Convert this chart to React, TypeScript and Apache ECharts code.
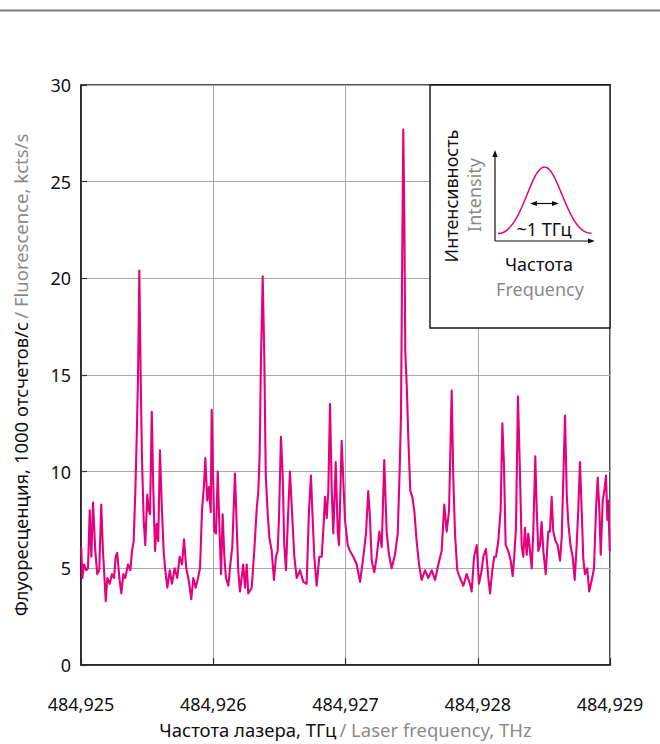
import React, { useEffect, useRef } from "react";
import * as echarts from "echarts";

// Laser frequency offset from 484,925 THz, in MHz
const freqOffsetMHz = [
  2, 10, 23, 40, 53, 66, 78, 91, 108, 123,
  138, 153, 166, 176, 187, 199, 217, 234, 250, 262,
  274, 290, 305, 320, 335, 355, 373, 386, 398, 411,
  421, 431, 441, 451, 461, 474, 486, 501, 512, 522,
  535, 547, 560, 572, 584, 597, 612, 625, 637, 653,
  671, 688, 708, 728, 746, 764, 779, 796, 814, 834,
  849, 867, 885, 900, 915, 930, 940, 955, 968, 981,
  988, 1008, 1021, 1034, 1049, 1059, 1071, 1084, 1096, 1114,
  1129, 1144, 1164, 1177, 1189, 1202, 1227, 1240, 1253, 1265,
  1291, 1310, 1329, 1341, 1351, 1361, 1374, 1386, 1397, 1412,
  1424, 1442, 1459, 1474, 1487, 1497, 1512, 1525, 1537, 1550,
  1563, 1580, 1598, 1613, 1631, 1656, 1681, 1706, 1724, 1739,
  1749, 1764, 1782, 1802, 1820, 1835, 1845, 1858, 1870, 1883,
  1896, 1908, 1926, 1941, 1951, 1971, 1996, 2017, 2034, 2059,
  2085, 2110, 2135, 2155, 2172, 2185, 2198, 2218, 2236, 2256,
  2274, 2293, 2311, 2329, 2349, 2374, 2395, 2410, 2420, 2427,
  2437, 2445, 2452, 2465, 2475, 2490, 2505, 2520, 2538, 2556,
  2576, 2601, 2626, 2652, 2677, 2702, 2727, 2747, 2765, 2783,
  2803, 2815, 2828, 2845, 2866, 2891, 2916, 2941, 2954, 2972,
  2992, 3009, 3030, 3042, 3062, 3080, 3093, 3110, 3125, 3138,
  3155, 3173, 3186, 3198, 3211, 3231, 3249, 3264, 3276, 3289,
  3304, 3317, 3332, 3344, 3357, 3370, 3382, 3395, 3408, 3420,
  3435, 3446, 3458, 3471, 3483, 3496, 3514, 3533, 3546, 3559,
  3571, 3589, 3604, 3622, 3635, 3647, 3660, 3673, 3685, 3703,
  3718, 3733, 3748, 3760, 3773, 3786, 3798, 3811, 3828, 3843,
  3862, 3879, 3894, 3907, 3919, 3930, 3945, 3957, 3970, 3980,
  3987, 3998,
];

// Fluorescence, kcts/s
const fluorescence = [
  6.1, 4.5, 5.2, 4.9, 5.0, 8.0, 5.6, 8.4, 5.9, 4.7,
  4.9, 8.3, 5.9, 4.7, 3.3, 4.5, 4.2, 4.7, 4.5, 5.6,
  5.8, 4.5, 3.7, 4.7, 4.5, 5.2, 4.9, 5.9, 6.4, 9.0,
  11.7, 14.8, 20.4, 15.0, 10.7, 7.5, 6.2, 8.8, 8.0, 7.8,
  13.1, 9.0, 5.9, 7.3, 6.4, 11.1, 8.0, 5.9, 4.9, 4.0,
  4.9, 4.2, 5.0, 4.5, 5.6, 5.2, 6.5, 5.0, 4.4, 3.4,
  4.5, 4.0, 4.5, 5.0, 8.0, 9.3, 10.7, 8.5, 9.2, 7.9,
  13.2, 6.9, 6.8, 10.0, 6.6, 4.7, 7.8, 5.6, 4.5, 4.1,
  5.2, 6.1, 9.9, 7.3, 4.9, 3.8, 5.2, 4.0, 5.2, 3.7,
  4.0, 5.9, 8.1, 9.0, 10.9, 15.9, 20.1, 15.9, 9.8, 7.8,
  6.6, 5.9, 4.4, 5.6, 5.9, 7.6, 11.8, 9.8, 6.2, 4.9,
  7.3, 10.0, 7.6, 5.6, 4.5, 4.9, 4.3, 4.2, 8.0, 9.8,
  8.0, 5.6, 4.1, 5.6, 5.6, 7.3, 8.7, 7.6, 9.0, 13.5,
  9.0, 6.8, 10.5, 6.9, 6.2, 11.6, 7.5, 6.2, 5.9, 5.6,
  5.2, 4.3, 5.6, 6.8, 9.0, 7.6, 5.4, 4.8, 5.6, 6.9,
  6.1, 10.6, 6.9, 5.7, 5.0, 5.7, 6.8, 10.2, 13.1, 19.6,
  27.7, 23.1, 16.2, 14.1, 11.7, 9.0, 8.7, 8.0, 6.4, 5.2,
  4.4, 4.9, 4.5, 4.9, 4.4, 5.2, 5.9, 8.3, 6.9, 8.0,
  14.2, 9.7, 6.8, 4.9, 4.5, 4.1, 4.7, 4.2, 3.8, 5.6,
  6.2, 4.2, 4.9, 5.6, 6.0, 4.5, 3.7, 4.9, 5.6, 5.6,
  6.4, 8.0, 12.5, 10.4, 6.2, 5.9, 5.4, 4.6, 5.6, 7.1,
  13.9, 10.5, 6.2, 5.6, 7.1, 5.7, 6.8, 5.9, 5.0, 6.9,
  10.8, 8.0, 5.9, 6.2, 7.4, 5.9, 4.7, 6.9, 6.9, 8.7,
  6.9, 6.4, 6.2, 5.4, 6.6, 9.7, 12.9, 8.8, 7.3, 6.1,
  5.6, 4.4, 6.2, 8.0, 10.5, 8.0, 5.5, 4.7, 5.0, 3.8,
  4.4, 5.0, 8.0, 9.7, 8.1, 5.7, 8.5, 9.0, 9.8, 7.5,
  8.5, 5.9,
];

const xTickLabels = ["484,925", "484,926", "484,927", "484,928", "484,929"];

const FONT = "Noto Sans";
const PINK = "#e5007d";
const GREY_TEXT = "#8a8a8a";

export default function App() {
  const ref = useRef<HTMLDivElement>(null);

  useEffect(() => {
    if (!ref.current) return;
    const chart = echarts.init(ref.current, null, { renderer: "svg" });
    const data = freqOffsetMHz.map((f, i) => [f, fluorescence[i]]);

    const arrowHead = (tipX: number, tipY: number, dir: "up" | "right" | "left") => {
      let pts: number[][];
      if (dir === "up") pts = [[tipX, tipY], [tipX - 2.6, tipY + 7], [tipX + 2.6, tipY + 7]];
      else if (dir === "right") pts = [[tipX, tipY], [tipX - 7, tipY - 2.6], [tipX - 7, tipY + 2.6]];
      else pts = [[tipX, tipY], [tipX + 7, tipY - 2.6], [tipX + 7, tipY + 2.6]];
      return { type: "polygon", z: 20, shape: { points: pts }, style: { fill: "#111" } };
    };

    chart.setOption({
      animation: false,
      textStyle: { fontFamily: FONT },
      grid: {
        left: 81,
        top: 85,
        width: 529,
        height: 583,
        show: true,
        borderColor: "#1a1a1a",
        borderWidth: 1.5,
        backgroundColor: "transparent",
      },
      xAxis: {
        type: "value",
        min: 0,
        max: 4000,
        interval: 1000,
        name: "{a|Частота лазера, ТГц} {b|/ Laser frequency, THz}",
        nameLocation: "middle",
        nameGap: 55,
        nameTextStyle: {
          rich: {
            a: { color: "#111", fontSize: 18.5, fontFamily: FONT },
            b: { color: GREY_TEXT, fontSize: 18.5, fontFamily: FONT },
          },
        },
        axisLine: { show: true, lineStyle: { color: "#1a1a1a", width: 1.5 } },
        axisTick: { show: true, inside: true, length: 7, lineStyle: { color: "#333", width: 1.2 } },
        axisLabel: {
          margin: 30,
          fontSize: 18,
          color: "#111",
          fontFamily: FONT,
          formatter: (v: number) => xTickLabels[Math.round(v / 1000)] ?? "",
        },
        splitLine: { show: true, lineStyle: { color: "#a8a8a8", width: 1 } },
      },
      yAxis: {
        type: "value",
        min: 0,
        max: 30,
        interval: 5,
        name: "{a|Флуоресценция, 1000 отсчетов/с} {b|/ Fluorescence, kcts/s}",
        nameLocation: "middle",
        nameGap: 51,
        nameRotate: 90,
        nameTextStyle: {
          rich: {
            a: { color: "#111", fontSize: 18.5, fontFamily: FONT },
            b: { color: GREY_TEXT, fontSize: 18.5, fontFamily: FONT },
          },
        },
        axisLine: { show: true, lineStyle: { color: "#1a1a1a", width: 1.5 } },
        axisTick: { show: true, inside: true, length: 6, lineStyle: { color: "#333", width: 1.2 } },
        axisLabel: { margin: 10, fontSize: 18, color: "#111", fontFamily: FONT },
        splitLine: { show: true, lineStyle: { color: "#a8a8a8", width: 1 } },
      },
      series: [
        {
          type: "line",
          data,
          showSymbol: false,
          symbol: "none",
          lineStyle: { color: PINK, width: 2.1, join: "round" },
          itemStyle: { color: PINK },
          z: 3,
        },
      ],
      graphic: [
        {
          type: "line",
          shape: { x1: 0, y1: 10.5, x2: 660, y2: 10.5 },
          style: { stroke: "#7a7a7a", lineWidth: 2 },
        },
        {
          type: "rect",
          z: 10,
          shape: { x: 430, y: 85, width: 180, height: 243 },
          style: { fill: "#fff", stroke: "#111", lineWidth: 1.4 },
        },
        {
          type: "text",
          z: 20,
          x: 451,
          y: 196,
          rotation: Math.PI / 2,
          style: {
            text: "Интенсивность",
            fill: "#111",
            font: `18px "${FONT}"`,
            align: "center",
            verticalAlign: "middle",
          },
        },
        {
          type: "text",
          z: 20,
          x: 474,
          y: 195,
          rotation: Math.PI / 2,
          style: {
            text: "Intensity",
            fill: GREY_TEXT,
            font: `18px "${FONT}"`,
            align: "center",
            verticalAlign: "middle",
          },
        },
        {
          type: "line",
          z: 20,
          shape: { x1: 495, y1: 241, x2: 495, y2: 156 },
          style: { stroke: "#111", lineWidth: 1.2 },
        },
        arrowHead(495, 150, "up"),
        {
          type: "line",
          z: 20,
          shape: { x1: 495, y1: 241, x2: 589, y2: 241 },
          style: { stroke: "#111", lineWidth: 1.2 },
        },
        arrowHead(595, 241, "right"),
        {
          type: "bezierCurve",
          z: 20,
          shape: { x1: 498, y1: 233.5, cpx1: 522, cpy1: 233.5, cpx2: 530, cpy2: 167, x2: 544.5, y2: 167 },
          style: { stroke: PINK, lineWidth: 1.5, fill: "none" },
        },
        {
          type: "bezierCurve",
          z: 20,
          shape: { x1: 544.5, y1: 167, cpx1: 559, cpy1: 167, cpx2: 567, cpy2: 233.5, x2: 591.5, y2: 233.5 },
          style: { stroke: PINK, lineWidth: 1.5, fill: "none" },
        },
        {
          type: "line",
          z: 20,
          shape: { x1: 535, y1: 203.5, x2: 554, y2: 203.5 },
          style: { stroke: "#111", lineWidth: 1.2 },
        },
        arrowHead(530, 203.5, "left"),
        arrowHead(559, 203.5, "right"),
        {
          type: "text",
          z: 20,
          x: 544,
          y: 229,
          style: {
            text: "~1 ТГц",
            fill: "#111",
            font: `18px "${FONT}"`,
            align: "center",
            verticalAlign: "middle",
          },
        },
        {
          type: "text",
          z: 20,
          x: 539,
          y: 264,
          style: {
            text: "Частота",
            fill: "#111",
            font: `18px "${FONT}"`,
            align: "center",
            verticalAlign: "middle",
          },
        },
        {
          type: "text",
          z: 20,
          x: 540,
          y: 289,
          style: {
            text: "Frequency",
            fill: GREY_TEXT,
            font: `18px "${FONT}"`,
            align: "center",
            verticalAlign: "middle",
          },
        },
      ],
    });

    return () => chart.dispose();
  }, []);

  return (
    <div
      ref={ref}
      style={{ position: "fixed", left: 0, top: 0, width: 660, height: 744, background: "#fff" }}
    />
  );
}
